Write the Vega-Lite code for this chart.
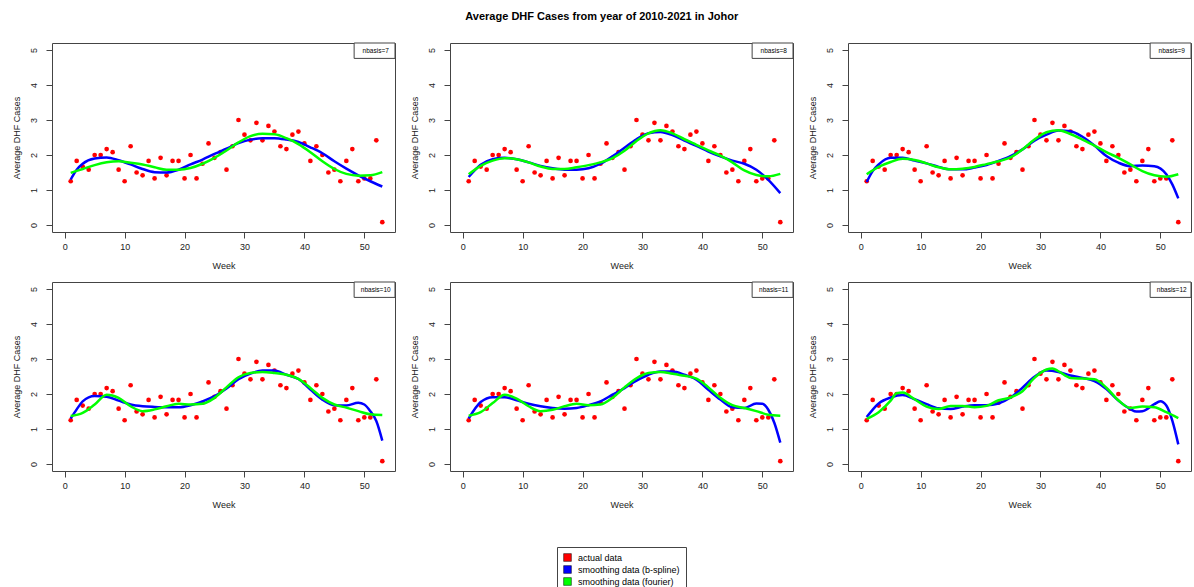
{
  "$schema": "https://vega.github.io/schema/vega-lite/v6.json",
  "padding": {"left": 11, "top": 11, "right": 0, "bottom": 0},
  "background": "white",
  "title": {"text": "Average DHF Cases from year of 2010-2021 in Johor", "fontSize": 11, "fontWeight": "bold", "font": "Liberation Sans", "anchor": "middle", "color": "#000", "offset": 20},
  "datasets": {
    "actual": [
      {"week":1,"cases":1.25},{"week":2,"cases":1.83},{"week":3,"cases":1.67},{"week":4,"cases":1.58},{"week":5,"cases":2.0},{"week":6,"cases":2.0},{"week":7,"cases":2.17},{"week":8,"cases":2.08},{"week":9,"cases":1.58},{"week":10,"cases":1.25},
      {"week":11,"cases":2.25},{"week":12,"cases":1.5},{"week":13,"cases":1.42},{"week":14,"cases":1.83},{"week":15,"cases":1.33},{"week":16,"cases":1.92},{"week":17,"cases":1.42},{"week":18,"cases":1.83},{"week":19,"cases":1.83},{"week":20,"cases":1.33},
      {"week":21,"cases":2.0},{"week":22,"cases":1.33},{"week":23,"cases":1.75},{"week":24,"cases":2.33},{"week":25,"cases":1.92},{"week":26,"cases":2.08},{"week":27,"cases":1.58},{"week":28,"cases":2.25},{"week":29,"cases":3.0},{"week":30,"cases":2.58},
      {"week":31,"cases":2.42},{"week":32,"cases":2.92},{"week":33,"cases":2.42},{"week":34,"cases":2.83},{"week":35,"cases":2.67},{"week":36,"cases":2.25},{"week":37,"cases":2.17},{"week":38,"cases":2.58},{"week":39,"cases":2.67},{"week":40,"cases":2.33},
      {"week":41,"cases":1.83},{"week":42,"cases":2.25},{"week":43,"cases":2.0},{"week":44,"cases":1.5},{"week":45,"cases":1.58},{"week":46,"cases":1.25},{"week":47,"cases":1.83},{"week":48,"cases":2.17},{"week":49,"cases":1.25},{"week":50,"cases":1.33},
      {"week":51,"cases":1.33},{"week":52,"cases":2.42},{"week":53,"cases":0.08}
    ],
    "labels": [
      {"nbasis":7,"label":"nbasis=7"},{"nbasis":8,"label":"nbasis=8"},{"nbasis":9,"label":"nbasis=9"},
      {"nbasis":10,"label":"nbasis=10"},{"nbasis":11,"label":"nbasis=11"},{"nbasis":12,"label":"nbasis=12"}
    ],
    "curves": [
      {"nbasis":7,"method":"b","week":1,"value":1.30},{"nbasis":7,"method":"b","week":2,"value":1.58},{"nbasis":7,"method":"b","week":3,"value":1.75},{"nbasis":7,"method":"b","week":5,"value":1.90},{"nbasis":7,"method":"b","week":7,"value":1.93},{"nbasis":7,"method":"b","week":9,"value":1.85},{"nbasis":7,"method":"b","week":11,"value":1.73},{"nbasis":7,"method":"b","week":13,"value":1.60},{"nbasis":7,"method":"b","week":15,"value":1.51},{"nbasis":7,"method":"b","week":17,"value":1.50},{"nbasis":7,"method":"b","week":19,"value":1.58},{"nbasis":7,"method":"b","week":21,"value":1.73},{"nbasis":7,"method":"b","week":23,"value":1.87},{"nbasis":7,"method":"b","week":25,"value":2.03},{"nbasis":7,"method":"b","week":27,"value":2.18},{"nbasis":7,"method":"b","week":29,"value":2.34},{"nbasis":7,"method":"b","week":31,"value":2.44},{"nbasis":7,"method":"b","week":33,"value":2.48},{"nbasis":7,"method":"b","week":35,"value":2.48},{"nbasis":7,"method":"b","week":37,"value":2.44},{"nbasis":7,"method":"b","week":39,"value":2.37},{"nbasis":7,"method":"b","week":41,"value":2.22},{"nbasis":7,"method":"b","week":43,"value":2.05},{"nbasis":7,"method":"b","week":45,"value":1.82},{"nbasis":7,"method":"b","week":47,"value":1.61},{"nbasis":7,"method":"b","week":49,"value":1.42},{"nbasis":7,"method":"b","week":51,"value":1.25},{"nbasis":7,"method":"b","week":53,"value":1.10},
      {"nbasis":7,"method":"f","week":1,"value":1.49},{"nbasis":7,"method":"f","week":3,"value":1.60},{"nbasis":7,"method":"f","week":5,"value":1.71},{"nbasis":7,"method":"f","week":7,"value":1.79},{"nbasis":7,"method":"f","week":9,"value":1.82},{"nbasis":7,"method":"f","week":11,"value":1.78},{"nbasis":7,"method":"f","week":13,"value":1.73},{"nbasis":7,"method":"f","week":15,"value":1.65},{"nbasis":7,"method":"f","week":17,"value":1.58},{"nbasis":7,"method":"f","week":19,"value":1.58},{"nbasis":7,"method":"f","week":21,"value":1.63},{"nbasis":7,"method":"f","week":23,"value":1.75},{"nbasis":7,"method":"f","week":25,"value":1.92},{"nbasis":7,"method":"f","week":27,"value":2.13},{"nbasis":7,"method":"f","week":29,"value":2.36},{"nbasis":7,"method":"f","week":31,"value":2.54},{"nbasis":7,"method":"f","week":33,"value":2.61},{"nbasis":7,"method":"f","week":35,"value":2.59},{"nbasis":7,"method":"f","week":37,"value":2.48},{"nbasis":7,"method":"f","week":39,"value":2.31},{"nbasis":7,"method":"f","week":41,"value":2.08},{"nbasis":7,"method":"f","week":43,"value":1.82},{"nbasis":7,"method":"f","week":45,"value":1.60},{"nbasis":7,"method":"f","week":47,"value":1.46},{"nbasis":7,"method":"f","week":49,"value":1.41},{"nbasis":7,"method":"f","week":51,"value":1.42},{"nbasis":7,"method":"f","week":53,"value":1.51},
      {"nbasis":8,"method":"b","week":1,"value":1.37},{"nbasis":8,"method":"b","week":3,"value":1.72},{"nbasis":8,"method":"b","week":5,"value":1.88},{"nbasis":8,"method":"b","week":7,"value":1.92},{"nbasis":8,"method":"b","week":9,"value":1.88},{"nbasis":8,"method":"b","week":11,"value":1.79},{"nbasis":8,"method":"b","week":13,"value":1.69},{"nbasis":8,"method":"b","week":15,"value":1.62},{"nbasis":8,"method":"b","week":17,"value":1.58},{"nbasis":8,"method":"b","week":19,"value":1.58},{"nbasis":8,"method":"b","week":21,"value":1.62},{"nbasis":8,"method":"b","week":23,"value":1.75},{"nbasis":8,"method":"b","week":25,"value":1.96},{"nbasis":8,"method":"b","week":27,"value":2.21},{"nbasis":8,"method":"b","week":29,"value":2.45},{"nbasis":8,"method":"b","week":31,"value":2.62},{"nbasis":8,"method":"b","week":33,"value":2.66},{"nbasis":8,"method":"b","week":35,"value":2.57},{"nbasis":8,"method":"b","week":37,"value":2.41},{"nbasis":8,"method":"b","week":39,"value":2.26},{"nbasis":8,"method":"b","week":41,"value":2.10},{"nbasis":8,"method":"b","week":43,"value":1.96},{"nbasis":8,"method":"b","week":45,"value":1.84},{"nbasis":8,"method":"b","week":47,"value":1.75},{"nbasis":8,"method":"b","week":49,"value":1.58},{"nbasis":8,"method":"b","week":51,"value":1.29},{"nbasis":8,"method":"b","week":53,"value":0.91},
      {"nbasis":8,"method":"f","week":1,"value":1.45},{"nbasis":8,"method":"f","week":3,"value":1.69},{"nbasis":8,"method":"f","week":5,"value":1.84},{"nbasis":8,"method":"f","week":7,"value":1.91},{"nbasis":8,"method":"f","week":9,"value":1.88},{"nbasis":8,"method":"f","week":11,"value":1.79},{"nbasis":8,"method":"f","week":13,"value":1.67},{"nbasis":8,"method":"f","week":15,"value":1.60},{"nbasis":8,"method":"f","week":17,"value":1.60},{"nbasis":8,"method":"f","week":19,"value":1.65},{"nbasis":8,"method":"f","week":21,"value":1.71},{"nbasis":8,"method":"f","week":23,"value":1.79},{"nbasis":8,"method":"f","week":25,"value":1.91},{"nbasis":8,"method":"f","week":27,"value":2.12},{"nbasis":8,"method":"f","week":29,"value":2.40},{"nbasis":8,"method":"f","week":31,"value":2.62},{"nbasis":8,"method":"f","week":33,"value":2.71},{"nbasis":8,"method":"f","week":35,"value":2.62},{"nbasis":8,"method":"f","week":37,"value":2.45},{"nbasis":8,"method":"f","week":39,"value":2.29},{"nbasis":8,"method":"f","week":41,"value":2.13},{"nbasis":8,"method":"f","week":43,"value":1.98},{"nbasis":8,"method":"f","week":45,"value":1.79},{"nbasis":8,"method":"f","week":47,"value":1.56},{"nbasis":8,"method":"f","week":49,"value":1.43},{"nbasis":8,"method":"f","week":51,"value":1.39},{"nbasis":8,"method":"f","week":53,"value":1.46},
      {"nbasis":9,"method":"b","week":1,"value":1.23},{"nbasis":9,"method":"b","week":2,"value":1.54},{"nbasis":9,"method":"b","week":3,"value":1.73},{"nbasis":9,"method":"b","week":5,"value":1.92},{"nbasis":9,"method":"b","week":7,"value":1.92},{"nbasis":9,"method":"b","week":9,"value":1.84},{"nbasis":9,"method":"b","week":11,"value":1.76},{"nbasis":9,"method":"b","week":13,"value":1.66},{"nbasis":9,"method":"b","week":15,"value":1.59},{"nbasis":9,"method":"b","week":17,"value":1.59},{"nbasis":9,"method":"b","week":19,"value":1.64},{"nbasis":9,"method":"b","week":21,"value":1.71},{"nbasis":9,"method":"b","week":23,"value":1.83},{"nbasis":9,"method":"b","week":25,"value":1.97},{"nbasis":9,"method":"b","week":27,"value":2.16},{"nbasis":9,"method":"b","week":29,"value":2.41},{"nbasis":9,"method":"b","week":31,"value":2.58},{"nbasis":9,"method":"b","week":33,"value":2.70},{"nbasis":9,"method":"b","week":35,"value":2.68},{"nbasis":9,"method":"b","week":37,"value":2.52},{"nbasis":9,"method":"b","week":39,"value":2.27},{"nbasis":9,"method":"b","week":41,"value":1.97},{"nbasis":9,"method":"b","week":43,"value":1.78},{"nbasis":9,"method":"b","week":45,"value":1.68},{"nbasis":9,"method":"b","week":47,"value":1.70},{"nbasis":9,"method":"b","week":49,"value":1.68},{"nbasis":9,"method":"b","week":51,"value":1.45},{"nbasis":9,"method":"b","week":52,"value":1.16},{"nbasis":9,"method":"b","week":53,"value":0.76},
      {"nbasis":9,"method":"f","week":1,"value":1.45},{"nbasis":9,"method":"f","week":3,"value":1.66},{"nbasis":9,"method":"f","week":5,"value":1.80},{"nbasis":9,"method":"f","week":7,"value":1.89},{"nbasis":9,"method":"f","week":9,"value":1.86},{"nbasis":9,"method":"f","week":11,"value":1.76},{"nbasis":9,"method":"f","week":13,"value":1.65},{"nbasis":9,"method":"f","week":15,"value":1.59},{"nbasis":9,"method":"f","week":17,"value":1.61},{"nbasis":9,"method":"f","week":19,"value":1.66},{"nbasis":9,"method":"f","week":21,"value":1.74},{"nbasis":9,"method":"f","week":23,"value":1.82},{"nbasis":9,"method":"f","week":25,"value":1.93},{"nbasis":9,"method":"f","week":27,"value":2.16},{"nbasis":9,"method":"f","week":29,"value":2.44},{"nbasis":9,"method":"f","week":31,"value":2.65},{"nbasis":9,"method":"f","week":33,"value":2.71},{"nbasis":9,"method":"f","week":35,"value":2.60},{"nbasis":9,"method":"f","week":37,"value":2.44},{"nbasis":9,"method":"f","week":39,"value":2.27},{"nbasis":9,"method":"f","week":41,"value":2.08},{"nbasis":9,"method":"f","week":43,"value":1.92},{"nbasis":9,"method":"f","week":45,"value":1.73},{"nbasis":9,"method":"f","week":47,"value":1.54},{"nbasis":9,"method":"f","week":49,"value":1.42},{"nbasis":9,"method":"f","week":51,"value":1.38},{"nbasis":9,"method":"f","week":53,"value":1.45},
      {"nbasis":10,"method":"b","week":1,"value":1.30},{"nbasis":10,"method":"b","week":2,"value":1.56},{"nbasis":10,"method":"b","week":3,"value":1.79},{"nbasis":10,"method":"b","week":5,"value":1.94},{"nbasis":10,"method":"b","week":7,"value":1.92},{"nbasis":10,"method":"b","week":9,"value":1.81},{"nbasis":10,"method":"b","week":11,"value":1.70},{"nbasis":10,"method":"b","week":13,"value":1.65},{"nbasis":10,"method":"b","week":15,"value":1.63},{"nbasis":10,"method":"b","week":17,"value":1.62},{"nbasis":10,"method":"b","week":19,"value":1.62},{"nbasis":10,"method":"b","week":21,"value":1.68},{"nbasis":10,"method":"b","week":23,"value":1.79},{"nbasis":10,"method":"b","week":25,"value":1.94},{"nbasis":10,"method":"b","week":27,"value":2.16},{"nbasis":10,"method":"b","week":29,"value":2.42},{"nbasis":10,"method":"b","week":31,"value":2.58},{"nbasis":10,"method":"b","week":33,"value":2.67},{"nbasis":10,"method":"b","week":35,"value":2.67},{"nbasis":10,"method":"b","week":37,"value":2.55},{"nbasis":10,"method":"b","week":39,"value":2.43},{"nbasis":10,"method":"b","week":41,"value":2.13},{"nbasis":10,"method":"b","week":43,"value":1.84},{"nbasis":10,"method":"b","week":45,"value":1.68},{"nbasis":10,"method":"b","week":47,"value":1.67},{"nbasis":10,"method":"b","week":49,"value":1.75},{"nbasis":10,"method":"b","week":50,"value":1.70},{"nbasis":10,"method":"b","week":51,"value":1.51},{"nbasis":10,"method":"b","week":52,"value":1.23},{"nbasis":10,"method":"b","week":53,"value":0.67},
      {"nbasis":10,"method":"f","week":1,"value":1.37},{"nbasis":10,"method":"f","week":3,"value":1.46},{"nbasis":10,"method":"f","week":5,"value":1.70},{"nbasis":10,"method":"f","week":7,"value":1.98},{"nbasis":10,"method":"f","week":9,"value":1.89},{"nbasis":10,"method":"f","week":11,"value":1.65},{"nbasis":10,"method":"f","week":13,"value":1.51},{"nbasis":10,"method":"f","week":15,"value":1.56},{"nbasis":10,"method":"f","week":17,"value":1.65},{"nbasis":10,"method":"f","week":19,"value":1.72},{"nbasis":10,"method":"f","week":21,"value":1.70},{"nbasis":10,"method":"f","week":23,"value":1.72},{"nbasis":10,"method":"f","week":25,"value":1.89},{"nbasis":10,"method":"f","week":27,"value":2.19},{"nbasis":10,"method":"f","week":29,"value":2.48},{"nbasis":10,"method":"f","week":31,"value":2.60},{"nbasis":10,"method":"f","week":33,"value":2.63},{"nbasis":10,"method":"f","week":35,"value":2.60},{"nbasis":10,"method":"f","week":37,"value":2.55},{"nbasis":10,"method":"f","week":39,"value":2.43},{"nbasis":10,"method":"f","week":41,"value":2.17},{"nbasis":10,"method":"f","week":43,"value":1.89},{"nbasis":10,"method":"f","week":45,"value":1.70},{"nbasis":10,"method":"f","week":47,"value":1.61},{"nbasis":10,"method":"f","week":49,"value":1.51},{"nbasis":10,"method":"f","week":51,"value":1.42},{"nbasis":10,"method":"f","week":53,"value":1.40},
      {"nbasis":11,"method":"b","week":1,"value":1.30},{"nbasis":11,"method":"b","week":3,"value":1.77},{"nbasis":11,"method":"b","week":5,"value":1.91},{"nbasis":11,"method":"b","week":7,"value":1.91},{"nbasis":11,"method":"b","week":9,"value":1.82},{"nbasis":11,"method":"b","week":11,"value":1.72},{"nbasis":11,"method":"b","week":13,"value":1.65},{"nbasis":11,"method":"b","week":15,"value":1.60},{"nbasis":11,"method":"b","week":17,"value":1.58},{"nbasis":11,"method":"b","week":19,"value":1.60},{"nbasis":11,"method":"b","week":21,"value":1.68},{"nbasis":11,"method":"b","week":23,"value":1.79},{"nbasis":11,"method":"b","week":25,"value":1.98},{"nbasis":11,"method":"b","week":27,"value":2.17},{"nbasis":11,"method":"b","week":29,"value":2.38},{"nbasis":11,"method":"b","week":31,"value":2.55},{"nbasis":11,"method":"b","week":33,"value":2.64},{"nbasis":11,"method":"b","week":35,"value":2.64},{"nbasis":11,"method":"b","week":37,"value":2.55},{"nbasis":11,"method":"b","week":39,"value":2.41},{"nbasis":11,"method":"b","week":41,"value":2.12},{"nbasis":11,"method":"b","week":43,"value":1.84},{"nbasis":11,"method":"b","week":45,"value":1.62},{"nbasis":11,"method":"b","week":47,"value":1.60},{"nbasis":11,"method":"b","week":49,"value":1.73},{"nbasis":11,"method":"b","week":50,"value":1.72},{"nbasis":11,"method":"b","week":51,"value":1.55},{"nbasis":11,"method":"b","week":52,"value":1.18},{"nbasis":11,"method":"b","week":53,"value":0.61},
      {"nbasis":11,"method":"f","week":1,"value":1.38},{"nbasis":11,"method":"f","week":3,"value":1.48},{"nbasis":11,"method":"f","week":5,"value":1.74},{"nbasis":11,"method":"f","week":7,"value":1.98},{"nbasis":11,"method":"f","week":9,"value":1.87},{"nbasis":11,"method":"f","week":11,"value":1.65},{"nbasis":11,"method":"f","week":13,"value":1.51},{"nbasis":11,"method":"f","week":15,"value":1.55},{"nbasis":11,"method":"f","week":17,"value":1.65},{"nbasis":11,"method":"f","week":19,"value":1.72},{"nbasis":11,"method":"f","week":21,"value":1.68},{"nbasis":11,"method":"f","week":23,"value":1.70},{"nbasis":11,"method":"f","week":25,"value":1.89},{"nbasis":11,"method":"f","week":27,"value":2.19},{"nbasis":11,"method":"f","week":29,"value":2.45},{"nbasis":11,"method":"f","week":31,"value":2.60},{"nbasis":11,"method":"f","week":33,"value":2.63},{"nbasis":11,"method":"f","week":35,"value":2.58},{"nbasis":11,"method":"f","week":37,"value":2.52},{"nbasis":11,"method":"f","week":39,"value":2.44},{"nbasis":11,"method":"f","week":41,"value":2.19},{"nbasis":11,"method":"f","week":43,"value":1.89},{"nbasis":11,"method":"f","week":45,"value":1.68},{"nbasis":11,"method":"f","week":47,"value":1.60},{"nbasis":11,"method":"f","week":49,"value":1.51},{"nbasis":11,"method":"f","week":51,"value":1.41},{"nbasis":11,"method":"f","week":53,"value":1.38},
      {"nbasis":12,"method":"b","week":1,"value":1.34},{"nbasis":12,"method":"b","week":3,"value":1.73},{"nbasis":12,"method":"b","week":5,"value":1.90},{"nbasis":12,"method":"b","week":7,"value":1.97},{"nbasis":12,"method":"b","week":9,"value":1.85},{"nbasis":12,"method":"b","week":11,"value":1.71},{"nbasis":12,"method":"b","week":13,"value":1.59},{"nbasis":12,"method":"b","week":15,"value":1.57},{"nbasis":12,"method":"b","week":17,"value":1.64},{"nbasis":12,"method":"b","week":19,"value":1.68},{"nbasis":12,"method":"b","week":21,"value":1.68},{"nbasis":12,"method":"b","week":23,"value":1.73},{"nbasis":12,"method":"b","week":25,"value":1.90},{"nbasis":12,"method":"b","week":27,"value":2.18},{"nbasis":12,"method":"b","week":29,"value":2.49},{"nbasis":12,"method":"b","week":31,"value":2.67},{"nbasis":12,"method":"b","week":33,"value":2.63},{"nbasis":12,"method":"b","week":35,"value":2.53},{"nbasis":12,"method":"b","week":37,"value":2.46},{"nbasis":12,"method":"b","week":39,"value":2.37},{"nbasis":12,"method":"b","week":41,"value":2.14},{"nbasis":12,"method":"b","week":43,"value":1.81},{"nbasis":12,"method":"b","week":45,"value":1.57},{"nbasis":12,"method":"b","week":46,"value":1.50},{"nbasis":12,"method":"b","week":47,"value":1.51},{"nbasis":12,"method":"b","week":49,"value":1.71},{"nbasis":12,"method":"b","week":50,"value":1.79},{"nbasis":12,"method":"b","week":51,"value":1.67},{"nbasis":12,"method":"b","week":52,"value":1.24},{"nbasis":12,"method":"b","week":53,"value":0.56},
      {"nbasis":12,"method":"f","week":1,"value":1.29},{"nbasis":12,"method":"f","week":3,"value":1.48},{"nbasis":12,"method":"f","week":5,"value":1.81},{"nbasis":12,"method":"f","week":6,"value":2.02},{"nbasis":12,"method":"f","week":7,"value":2.04},{"nbasis":12,"method":"f","week":9,"value":1.85},{"nbasis":12,"method":"f","week":11,"value":1.64},{"nbasis":12,"method":"f","week":13,"value":1.57},{"nbasis":12,"method":"f","week":15,"value":1.66},{"nbasis":12,"method":"f","week":17,"value":1.66},{"nbasis":12,"method":"f","week":19,"value":1.62},{"nbasis":12,"method":"f","week":21,"value":1.66},{"nbasis":12,"method":"f","week":23,"value":1.82},{"nbasis":12,"method":"f","week":25,"value":1.90},{"nbasis":12,"method":"f","week":27,"value":2.08},{"nbasis":12,"method":"f","week":29,"value":2.46},{"nbasis":12,"method":"f","week":31,"value":2.70},{"nbasis":12,"method":"f","week":32,"value":2.73},{"nbasis":12,"method":"f","week":33,"value":2.65},{"nbasis":12,"method":"f","week":35,"value":2.46},{"nbasis":12,"method":"f","week":37,"value":2.44},{"nbasis":12,"method":"f","week":39,"value":2.42},{"nbasis":12,"method":"f","week":41,"value":2.18},{"nbasis":12,"method":"f","week":43,"value":1.82},{"nbasis":12,"method":"f","week":45,"value":1.60},{"nbasis":12,"method":"f","week":47,"value":1.64},{"nbasis":12,"method":"f","week":49,"value":1.62},{"nbasis":12,"method":"f","week":51,"value":1.48},{"nbasis":12,"method":"f","week":53,"value":1.31}
    ]
  },
  "columns": 3,
  "spacing": {"row": 50, "column": 55},
  "bounds": "flush",
  "concat": [
    {"width": 343, "height": 189, "layer": [
      {"data": {"name": "actual"}, "mark": {"type": "circle", "size": 22, "opacity": 1}, "encoding": {"x": {"field": "week", "type": "quantitative", "title": "Week", "axis": {"values": [0, 10, 20, 30, 40, 50]}, "scale": {"domain": [-2.12, 55.12], "nice": false, "zero": false}}, "y": {"field": "cases", "type": "quantitative", "title": "Average DHF Cases", "axis": {"tickCount": 5, "labelOverlap": false}, "scale": {"domain": [-0.2, 5.2], "nice": false, "zero": false}}, "color": {"datum": "actual data", "type": "nominal", "scale": {"domain": ["actual data", "smoothing data (b-spline)", "smoothing data (fourier)"], "range": ["#FF0000", "#0000FF", "#00FF00"]}, "legend": {"orient": "none", "legendX": 505, "legendY": 504, "direction": "vertical", "title": null}}}},
      {"data": {"name": "curves"}, "transform": [{"filter": "datum.nbasis == 7 && datum.method == 'b'"}], "mark": {"type": "line", "color": "#0000FF", "strokeWidth": 2.5, "interpolate": "monotone"}, "encoding": {"x": {"field": "week", "type": "quantitative"}, "y": {"field": "value", "type": "quantitative"}}},
      {"data": {"name": "curves"}, "transform": [{"filter": "datum.nbasis == 7 && datum.method == 'f'"}], "mark": {"type": "line", "color": "#00FF00", "strokeWidth": 2.5, "interpolate": "monotone"}, "encoding": {"x": {"field": "week", "type": "quantitative"}, "y": {"field": "value", "type": "quantitative"}}},
      {"data": {"name": "labels"}, "transform": [{"filter": "datum.nbasis == 7"}], "mark": {"type": "rect", "fill": "white", "stroke": "#444", "strokeWidth": 1}, "encoding": {"x": {"datum": 48.3}, "x2": {"datum": 55.12}, "y": {"datum": 4.76}, "y2": {"datum": 5.2}}},
      {"data": {"name": "labels"}, "transform": [{"filter": "datum.nbasis == 7"}], "mark": {"type": "text", "fontSize": 6.5, "color": "#000", "align": "center", "baseline": "middle"}, "encoding": {"x": {"datum": 51.9}, "y": {"datum": 4.98}, "text": {"field": "label"}}}
    ]},
    {"width": 343, "height": 189, "layer": [
      {"data": {"name": "actual"}, "mark": {"type": "circle", "size": 22, "opacity": 1}, "encoding": {"x": {"field": "week", "type": "quantitative", "title": "Week", "axis": {"values": [0, 10, 20, 30, 40, 50]}, "scale": {"domain": [-2.12, 55.12], "nice": false, "zero": false}}, "y": {"field": "cases", "type": "quantitative", "title": "Average DHF Cases", "axis": {"tickCount": 5, "labelOverlap": false}, "scale": {"domain": [-0.2, 5.2], "nice": false, "zero": false}}, "color": {"datum": "actual data", "type": "nominal"}}},
      {"data": {"name": "curves"}, "transform": [{"filter": "datum.nbasis == 8 && datum.method == 'b'"}], "mark": {"type": "line", "color": "#0000FF", "strokeWidth": 2.5, "interpolate": "monotone"}, "encoding": {"x": {"field": "week", "type": "quantitative"}, "y": {"field": "value", "type": "quantitative"}}},
      {"data": {"name": "curves"}, "transform": [{"filter": "datum.nbasis == 8 && datum.method == 'f'"}], "mark": {"type": "line", "color": "#00FF00", "strokeWidth": 2.5, "interpolate": "monotone"}, "encoding": {"x": {"field": "week", "type": "quantitative"}, "y": {"field": "value", "type": "quantitative"}}},
      {"data": {"name": "labels"}, "transform": [{"filter": "datum.nbasis == 8"}], "mark": {"type": "rect", "fill": "white", "stroke": "#444", "strokeWidth": 1}, "encoding": {"x": {"datum": 48.3}, "x2": {"datum": 55.12}, "y": {"datum": 4.76}, "y2": {"datum": 5.2}}},
      {"data": {"name": "labels"}, "transform": [{"filter": "datum.nbasis == 8"}], "mark": {"type": "text", "fontSize": 6.5, "color": "#000", "align": "center", "baseline": "middle"}, "encoding": {"x": {"datum": 51.9}, "y": {"datum": 4.98}, "text": {"field": "label"}}}
    ]},
    {"width": 343, "height": 189, "layer": [
      {"data": {"name": "actual"}, "mark": {"type": "circle", "size": 22, "opacity": 1}, "encoding": {"x": {"field": "week", "type": "quantitative", "title": "Week", "axis": {"values": [0, 10, 20, 30, 40, 50]}, "scale": {"domain": [-2.12, 55.12], "nice": false, "zero": false}}, "y": {"field": "cases", "type": "quantitative", "title": "Average DHF Cases", "axis": {"tickCount": 5, "labelOverlap": false}, "scale": {"domain": [-0.2, 5.2], "nice": false, "zero": false}}, "color": {"datum": "actual data", "type": "nominal"}}},
      {"data": {"name": "curves"}, "transform": [{"filter": "datum.nbasis == 9 && datum.method == 'b'"}], "mark": {"type": "line", "color": "#0000FF", "strokeWidth": 2.5, "interpolate": "monotone"}, "encoding": {"x": {"field": "week", "type": "quantitative"}, "y": {"field": "value", "type": "quantitative"}}},
      {"data": {"name": "curves"}, "transform": [{"filter": "datum.nbasis == 9 && datum.method == 'f'"}], "mark": {"type": "line", "color": "#00FF00", "strokeWidth": 2.5, "interpolate": "monotone"}, "encoding": {"x": {"field": "week", "type": "quantitative"}, "y": {"field": "value", "type": "quantitative"}}},
      {"data": {"name": "labels"}, "transform": [{"filter": "datum.nbasis == 9"}], "mark": {"type": "rect", "fill": "white", "stroke": "#444", "strokeWidth": 1}, "encoding": {"x": {"datum": 48.3}, "x2": {"datum": 55.12}, "y": {"datum": 4.76}, "y2": {"datum": 5.2}}},
      {"data": {"name": "labels"}, "transform": [{"filter": "datum.nbasis == 9"}], "mark": {"type": "text", "fontSize": 6.5, "color": "#000", "align": "center", "baseline": "middle"}, "encoding": {"x": {"datum": 51.9}, "y": {"datum": 4.98}, "text": {"field": "label"}}}
    ]},
    {"width": 343, "height": 189, "layer": [
      {"data": {"name": "actual"}, "mark": {"type": "circle", "size": 22, "opacity": 1}, "encoding": {"x": {"field": "week", "type": "quantitative", "title": "Week", "axis": {"values": [0, 10, 20, 30, 40, 50]}, "scale": {"domain": [-2.12, 55.12], "nice": false, "zero": false}}, "y": {"field": "cases", "type": "quantitative", "title": "Average DHF Cases", "axis": {"tickCount": 5, "labelOverlap": false}, "scale": {"domain": [-0.2, 5.2], "nice": false, "zero": false}}, "color": {"datum": "actual data", "type": "nominal"}}},
      {"data": {"name": "curves"}, "transform": [{"filter": "datum.nbasis == 10 && datum.method == 'b'"}], "mark": {"type": "line", "color": "#0000FF", "strokeWidth": 2.5, "interpolate": "monotone"}, "encoding": {"x": {"field": "week", "type": "quantitative"}, "y": {"field": "value", "type": "quantitative"}}},
      {"data": {"name": "curves"}, "transform": [{"filter": "datum.nbasis == 10 && datum.method == 'f'"}], "mark": {"type": "line", "color": "#00FF00", "strokeWidth": 2.5, "interpolate": "monotone"}, "encoding": {"x": {"field": "week", "type": "quantitative"}, "y": {"field": "value", "type": "quantitative"}}},
      {"data": {"name": "labels"}, "transform": [{"filter": "datum.nbasis == 10"}], "mark": {"type": "rect", "fill": "white", "stroke": "#444", "strokeWidth": 1}, "encoding": {"x": {"datum": 48.3}, "x2": {"datum": 55.12}, "y": {"datum": 4.76}, "y2": {"datum": 5.2}}},
      {"data": {"name": "labels"}, "transform": [{"filter": "datum.nbasis == 10"}], "mark": {"type": "text", "fontSize": 6.5, "color": "#000", "align": "center", "baseline": "middle"}, "encoding": {"x": {"datum": 51.9}, "y": {"datum": 4.98}, "text": {"field": "label"}}}
    ]},
    {"width": 343, "height": 189, "layer": [
      {"data": {"name": "actual"}, "mark": {"type": "circle", "size": 22, "opacity": 1}, "encoding": {"x": {"field": "week", "type": "quantitative", "title": "Week", "axis": {"values": [0, 10, 20, 30, 40, 50]}, "scale": {"domain": [-2.12, 55.12], "nice": false, "zero": false}}, "y": {"field": "cases", "type": "quantitative", "title": "Average DHF Cases", "axis": {"tickCount": 5, "labelOverlap": false}, "scale": {"domain": [-0.2, 5.2], "nice": false, "zero": false}}, "color": {"datum": "actual data", "type": "nominal"}}},
      {"data": {"name": "curves"}, "transform": [{"filter": "datum.nbasis == 11 && datum.method == 'b'"}], "mark": {"type": "line", "color": "#0000FF", "strokeWidth": 2.5, "interpolate": "monotone"}, "encoding": {"x": {"field": "week", "type": "quantitative"}, "y": {"field": "value", "type": "quantitative"}}},
      {"data": {"name": "curves"}, "transform": [{"filter": "datum.nbasis == 11 && datum.method == 'f'"}], "mark": {"type": "line", "color": "#00FF00", "strokeWidth": 2.5, "interpolate": "monotone"}, "encoding": {"x": {"field": "week", "type": "quantitative"}, "y": {"field": "value", "type": "quantitative"}}},
      {"data": {"name": "labels"}, "transform": [{"filter": "datum.nbasis == 11"}], "mark": {"type": "rect", "fill": "white", "stroke": "#444", "strokeWidth": 1}, "encoding": {"x": {"datum": 48.3}, "x2": {"datum": 55.12}, "y": {"datum": 4.76}, "y2": {"datum": 5.2}}},
      {"data": {"name": "labels"}, "transform": [{"filter": "datum.nbasis == 11"}], "mark": {"type": "text", "fontSize": 6.5, "color": "#000", "align": "center", "baseline": "middle"}, "encoding": {"x": {"datum": 51.9}, "y": {"datum": 4.98}, "text": {"field": "label"}}}
    ]},
    {"width": 343, "height": 189, "layer": [
      {"data": {"name": "actual"}, "mark": {"type": "circle", "size": 22, "opacity": 1}, "encoding": {"x": {"field": "week", "type": "quantitative", "title": "Week", "axis": {"values": [0, 10, 20, 30, 40, 50]}, "scale": {"domain": [-2.12, 55.12], "nice": false, "zero": false}}, "y": {"field": "cases", "type": "quantitative", "title": "Average DHF Cases", "axis": {"tickCount": 5, "labelOverlap": false}, "scale": {"domain": [-0.2, 5.2], "nice": false, "zero": false}}, "color": {"datum": "actual data", "type": "nominal"}}},
      {"data": {"name": "curves"}, "transform": [{"filter": "datum.nbasis == 12 && datum.method == 'b'"}], "mark": {"type": "line", "color": "#0000FF", "strokeWidth": 2.5, "interpolate": "monotone"}, "encoding": {"x": {"field": "week", "type": "quantitative"}, "y": {"field": "value", "type": "quantitative"}}},
      {"data": {"name": "curves"}, "transform": [{"filter": "datum.nbasis == 12 && datum.method == 'f'"}], "mark": {"type": "line", "color": "#00FF00", "strokeWidth": 2.5, "interpolate": "monotone"}, "encoding": {"x": {"field": "week", "type": "quantitative"}, "y": {"field": "value", "type": "quantitative"}}},
      {"data": {"name": "labels"}, "transform": [{"filter": "datum.nbasis == 12"}], "mark": {"type": "rect", "fill": "white", "stroke": "#444", "strokeWidth": 1}, "encoding": {"x": {"datum": 48.3}, "x2": {"datum": 55.12}, "y": {"datum": 4.76}, "y2": {"datum": 5.2}}},
      {"data": {"name": "labels"}, "transform": [{"filter": "datum.nbasis == 12"}], "mark": {"type": "text", "fontSize": 6.5, "color": "#000", "align": "center", "baseline": "middle"}, "encoding": {"x": {"datum": 51.9}, "y": {"datum": 4.98}, "text": {"field": "label"}}}
    ]}
  ],
  "config": {
    "font": "Liberation Sans",
    "view": {"stroke": "#444", "strokeWidth": 1},
    "axisX": {"grid": false, "domain": false, "tickSize": 6, "tickColor": "#444", "labelFontSize": 9, "labelColor": "#222", "labelPadding": 4, "titleFontSize": 9, "titleFontWeight": "normal", "titleColor": "#222", "titlePadding": 10},
    "axisY": {"grid": false, "domain": false, "tickSize": 6, "tickColor": "#444", "labelFontSize": 9, "labelColor": "#222", "labelAngle": -90, "labelAlign": "center", "labelBaseline": "bottom", "labelPadding": 8, "titleFontSize": 9, "titleFontWeight": "normal", "titleColor": "#222", "titlePadding": 8},
    "legend": {"strokeColor": "#444", "fillColor": "white", "padding": 6, "labelFontSize": 9, "labelColor": "#000", "symbolType": "square", "symbolSize": 60, "symbolStrokeColor": "#000", "symbolStrokeWidth": 0.5, "rowPadding": 1, "labelOffset": 6}
  }
}
